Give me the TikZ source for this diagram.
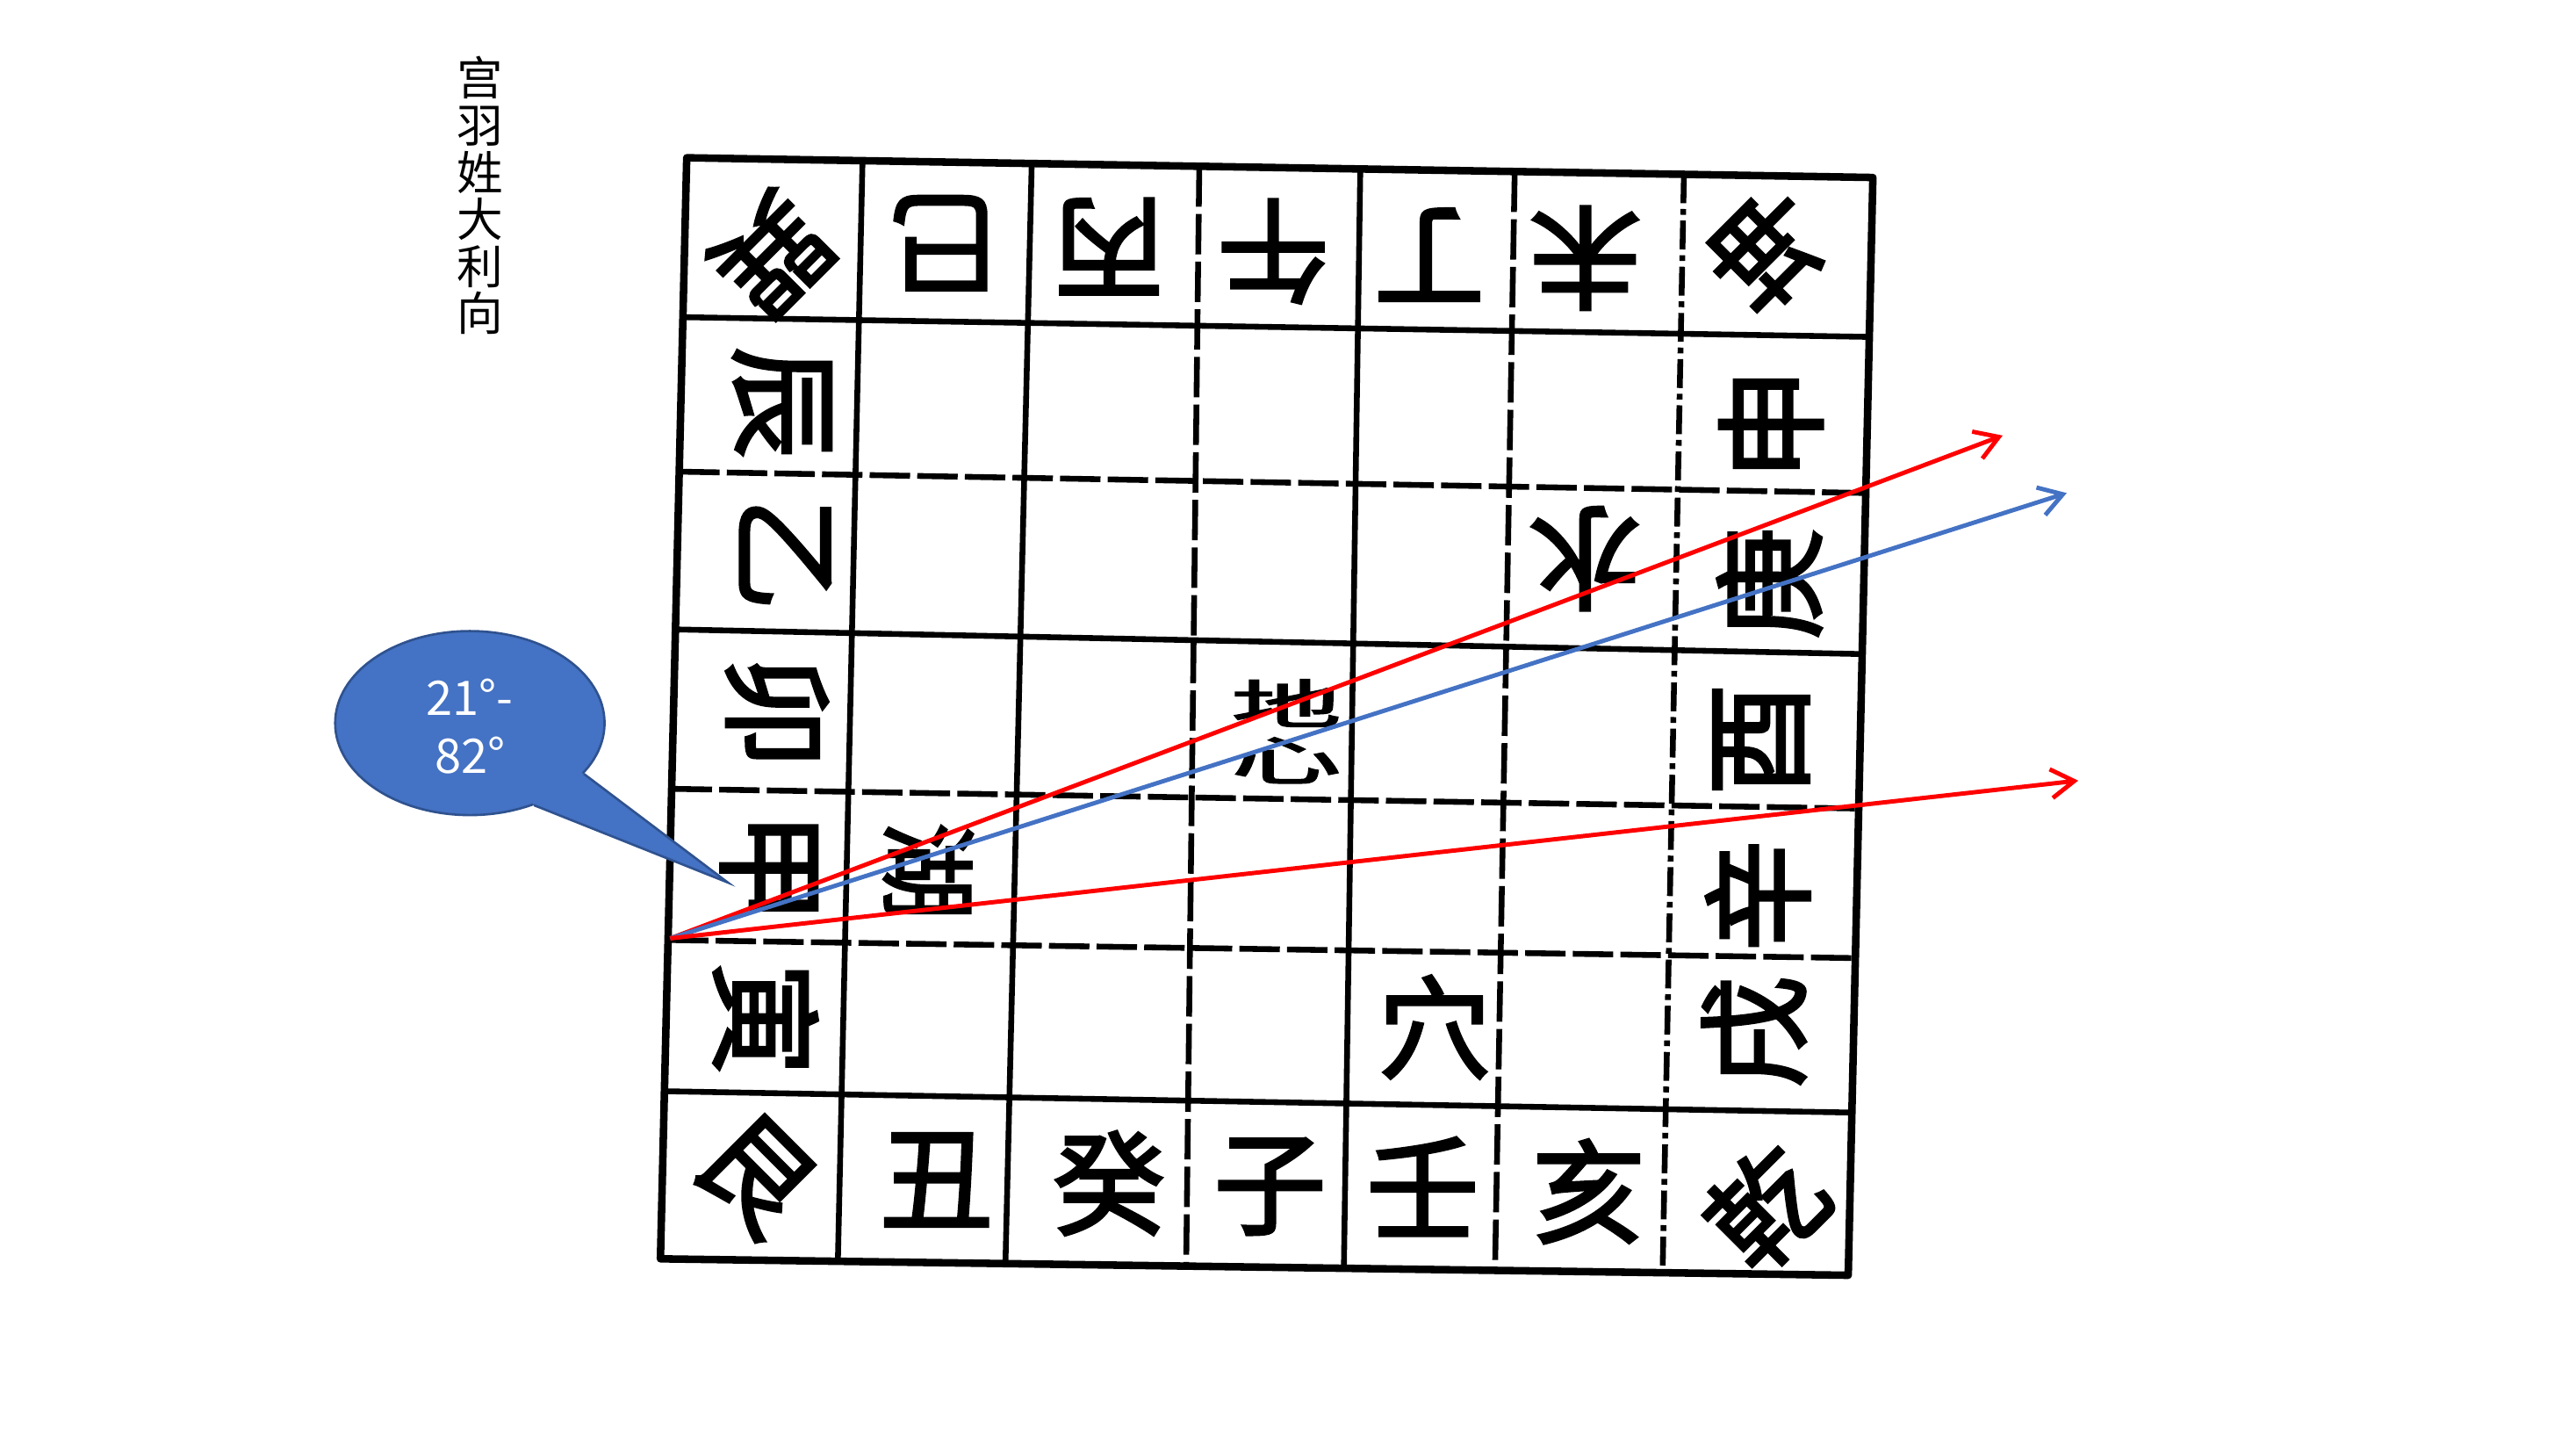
\documentclass[tikz,border=0pt]{standalone}
\usepackage{fontspec}
\usetikzlibrary{arrows.meta,shapes.geometric}
\newfontfamily\cjk{Noto Sans CJK SC}
\newfontfamily\cjkbrush{Noto Sans CJK SC}[FakeBold=2.5]
\definecolor{arrowred}{RGB}{255,0,0}
\definecolor{officeblue}{RGB}{68,114,196}
\definecolor{calloutedge}{RGB}{47,82,143}
\begin{document}
\begin{tikzpicture}[x=0.02cm,y=-0.02cm,
  gridchar/.style={font=\cjkbrush\fontsize{39}{39}\selectfont, inner sep=0pt},
  outerline/.style={line width=2.6pt, line join=round},
  innerline/.style={line width=2pt},
  brokenline/.style={innerline, dash pattern=on 14pt off 2.5pt},
  dashdotline/.style={innerline, dash pattern=on 10pt off 2pt on 2pt off 2pt},
  redarrow/.style={draw=arrowred, line width=1.5pt, -{Straight Barb[length=8pt,width=10pt,line width=1.5pt]}},
  bluearrow/.style={draw=officeblue, line width=1.5pt, -{Straight Barb[length=8pt,width=10pt,line width=1.5pt]}},
  callout/.style={ellipse, fill=officeblue, draw=calloutedge, line width=0.8pt,
    minimum width=3.28cm, minimum height=2.24cm, inner sep=0pt},
  callouttext/.style={text=white, align=center, inner sep=0pt, font=\cjk\fontsize{16.5}{20}\selectfont},
  titletext/.style={font=\cjk\fontsize{16}{16.3}\selectfont, align=center, inner sep=0pt}
]
\useasboundingbox (0,0) rectangle (1568,882);
\fill[white] (0,0) rectangle (1568,882);

% grid corner points
\coordinate (TL) at (418,96);
\coordinate (TR) at (1140,108);
\coordinate (BR) at (1125,776);
\coordinate (BL) at (402,766);

% vertical inner lines
\draw[innerline]    (525,97.8)  -- (510,767.5);
\draw[innerline]    (628,99.5)  -- (612,768.9);
\draw[brokenline]   (730,101.2) -- (722,770.4);
\draw[innerline]    (828,102.8) -- (818,771.8);
\draw[brokenline]   (922,104.4) -- (910,773);
\draw[dashdotline]  (1025,106.1) -- (1012,774.4);
% horizontal inner lines
\draw[innerline]    (415.7,193) -- (1137.8,205);
\draw[brokenline]   (413.4,287) -- (1135.7,300);
\draw[innerline]    (411.1,383) -- (1133.5,398);
\draw[brokenline]   (408.8,480) -- (1131.4,492);
\draw[brokenline]   (406.6,572) -- (1129.3,583);
\draw[innerline]    (404.4,664) -- (1127.2,677);
% outer border
\draw[outerline] (TL) -- (TR) -- (BR) -- (BL) -- cycle;

% top row
\node[gridchar, rotate=-135] (xun) at (470,155) {巽};
\node[gridchar, rotate=180] (si) at (575,148) {巳};
\node[gridchar, rotate=180] (bing) at (675,150) {丙};
\node[gridchar, rotate=180] (wu) at (775,153) {午};
\node[gridchar, rotate=180] (ding) at (870,155) {丁};
\node[gridchar, rotate=180] (wei) at (965,157) {未};
\node[gridchar, rotate=135] (kun) at (1075,152) {坤};
% left column
\node[gridchar, rotate=-90] (chen) at (476,245) {辰};
\node[gridchar, rotate=-90] (yi) at (478,337) {乙};
\node[gridchar, rotate=-90] (mao) at (473,433) {卯};
\node[gridchar, rotate=-90] (jia) at (468,528) {甲};
\node[gridchar, rotate=-90] (yin) at (466,620) {寅};
\node[gridchar, rotate=-45] (gen) at (460,715) {艮};
% bottom row
\node[gridchar] (chou) at (570,718) {丑};
\node[gridchar] (gui) at (675,720) {癸};
\node[gridchar] (zi) at (773,722) {子};
\node[gridchar] (ren) at (866,722) {壬};
\node[gridchar] (hai) at (967,725) {亥};
\node[gridchar, rotate=45] (qian) at (1075,735) {乾};
% right column
\node[gridchar, rotate=90] (shen) at (1078,258) {申};
\node[gridchar, rotate=90] (geng) at (1077,355) {庚};
\node[gridchar, rotate=90] (you) at (1072,450) {酉};
\node[gridchar, rotate=90] (xin) at (1070,545) {辛};
\node[gridchar, rotate=90] (xu) at (1068,628) {戌};
% inner characters
\node[gridchar, rotate=-90, font=\cjkbrush\fontsize{34}{34}\selectfont] (hu) at (565,530) {湖};
\node[gridchar, align=center, font=\cjkbrush\fontsize{38}{19.5}\selectfont] (dixin) at (783,445) {\scalebox{1}[0.48]{地}\\\scalebox{1}[0.48]{心}};
\node[gridchar, rotate=180] (shui) at (965,340) {水};
\node[gridchar] (xue) at (873,625) {穴};

% title
\node[titletext] (title) at (292,119) {宫\\羽\\姓\\大\\利\\向};

% arrows
\coordinate (origin) at (408,571);
\coordinate (tipA) at (1219,265);
\coordinate (tipB) at (1258,300);
\coordinate (tipC) at (1265,475);
\draw[redarrow] (origin) -- (tipA);
\draw[bluearrow] (origin) -- (tipB);
\draw[redarrow] (origin) -- (tipC);

% callout
\node[callout] (bubble) at (286,440) {};
\coordinate (tailtip) at (443,537);
\fill[officeblue] (bubble.-24) -- (tailtip) -- (bubble.-52) -- (bubble.center) -- cycle;
\draw[calloutedge, line width=0.8pt, line join=miter] (bubble.-24) -- (tailtip) -- (bubble.-52);
\node[callouttext] (bubbletext) at ([yshift=-0.04cm]bubble.center) {21°-\\82°};
\end{tikzpicture}
\end{document}
